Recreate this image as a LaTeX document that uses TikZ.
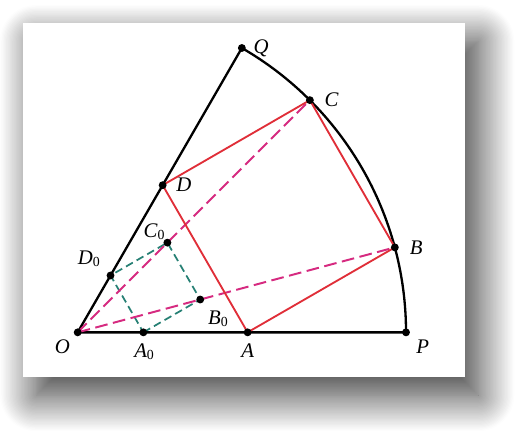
\documentclass[tikz,border=0pt]{standalone}
\usepackage{fontspec}
\setmainfont{Liberation Serif}
\usetikzlibrary{shadows.blur}
\definecolor{sqred}{RGB}{224,46,56}
\definecolor{diagpink}{RGB}{214,42,128}
\definecolor{smallteal}{RGB}{38,128,116}
\tikzset{
  lab/.style={font=\fontsize{9}{10}\selectfont\itshape, inner sep=0pt},
  bigsq/.style={sqred, line width=0.8pt},
  diag/.style={diagpink, line width=0.85pt, dash pattern=on 5.5pt off 2.4pt},
  smallsq/.style={smallteal, line width=0.75pt, dash pattern=on 3.4pt off 1.9pt}
}
\begin{document}
\begin{tikzpicture}
\useasboundingbox (-1.183,-1.503) rectangle (6.751,5.061);
\fill[white, blur shadow={shadow xshift=0.2cm, shadow yshift=-0.28cm, shadow blur radius=0.55cm, shadow blur steps=30, shadow opacity=80}] (-0.833,-0.676) rectangle (5.899,4.715);
\coordinate (O) at (0,0);
\coordinate (P) at (5,0);
\coordinate (Q) at (2.5,4.330);
\coordinate (A0) at (1,0);
\coordinate (B0) at (1.866,0.5);
\coordinate (C0) at (1.366,1.366);
\coordinate (D0) at (0.5,0.866);
\coordinate (A) at (2.588,0);
\coordinate (B) at (4.830,1.294);
\coordinate (C) at (3.536,3.536);
\coordinate (D) at (1.294,2.241);
\draw[line width=1pt] (Q) -- (O) -- (P) arc[start angle=0, end angle=60, radius=5];
\draw[smallsq] (A0) -- (B0) -- (C0) -- (D0) -- cycle;
\draw[diag] (O) -- (C);
\draw[diag] (O) -- (B);
\draw[bigsq] (A) -- (B) -- (C) -- (D) -- cycle;
\foreach \p in {O,P,Q,A,B,C,D,A0,B0,C0,D0}
  \fill (\p) circle[radius=0.06];
\node[lab] (lO) at ([shift={(-0.235,-0.219)}]O) {O};
\node[lab] (lP) at ([shift={(0.254,-0.219)}]P) {P};
\node[lab] (lQ) at ([shift={(0.294,0)}]Q) {Q};
\node[lab] (lA) at ([shift={(0,-0.28)}]A) {A};
\node[lab] (lB) at ([shift={(0.326,0)}]B) {B};
\node[lab] (lC) at ([shift={(0.33,0)}]C) {C};
\node[lab] (lD) at ([shift={(0.324,0)}]D) {D};
\node[lab] (lA0) at ([shift={(0.02,-0.295)}]A0) {A\textsubscript{\upshape 0}};
\node[lab] (lB0) at ([shift={(0.279,-0.294)}]B0) {B\textsubscript{\upshape 0}};
\node[lab] (lC0) at ([shift={(-0.193,0.172)}]C0) {C\textsubscript{\upshape 0}};
\node[lab] (lD0) at ([shift={(-0.32,0.254)}]D0) {D\textsubscript{\upshape 0}};
\end{tikzpicture}
\end{document}
